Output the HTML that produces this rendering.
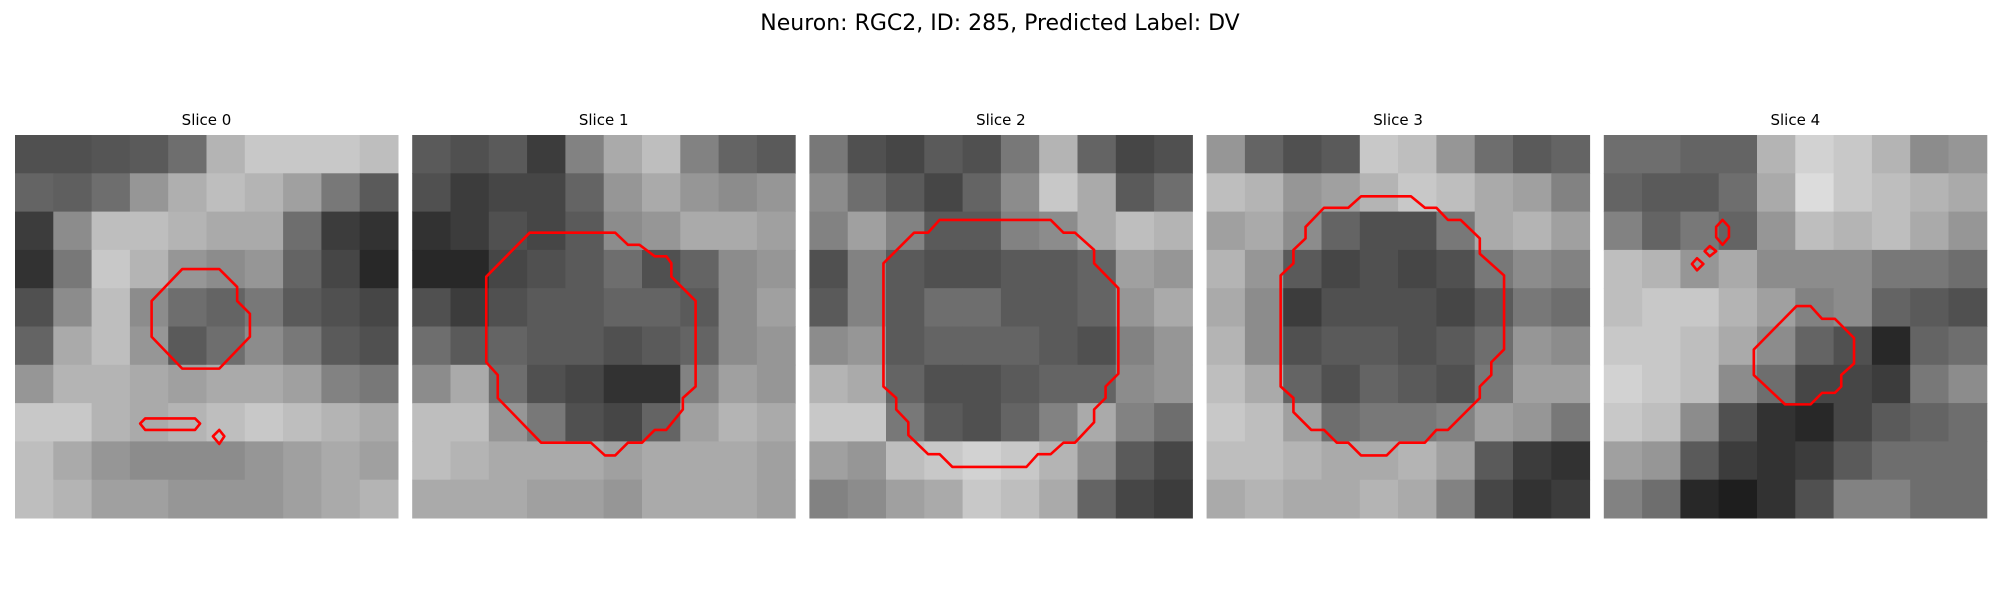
<!DOCTYPE html>
<html><head><meta charset="utf-8"><style>
html,body{margin:0;padding:0;background:#fff;width:2000px;height:600px;overflow:hidden}
svg{display:block}
text{font-family:"DejaVu Sans","Liberation Sans",sans-serif;fill:#000}
</style></head><body>
<svg id="fig" width="2000" height="600" viewBox="0 0 2000 600" xmlns="http://www.w3.org/2000/svg">
<text x="1000" y="30" font-size="22" text-anchor="middle">Neuron: RGC2, ID: 285, Predicted Label: DV</text>
</svg>
<script>
const sliceTitles = ["Slice 0","Slice 1","Slice 2","Slice 3","Slice 4"];
const intensity0 = [
[80,80,85,90,110,180,200,200,200,190],[100,95,110,150,175,190,180,160,120,90],[60,140,190,190,180,170,170,110,60,50],
[50,120,200,180,150,140,150,100,70,40],[80,140,190,140,110,100,120,90,80,70],[100,170,190,150,90,110,140,120,90,80],
[150,180,180,170,160,170,170,160,130,120],[200,200,180,170,180,190,200,190,180,170],[190,170,150,140,140,140,150,160,170,160],
[190,180,160,160,150,150,150,160,170,180]];
const intensity1 = [
[90,80,90,60,130,170,190,130,100,90],[80,60,70,70,100,150,170,150,140,150],[50,60,80,70,90,140,150,170,170,160],
[40,40,70,80,90,110,80,100,140,150],[80,60,80,90,90,100,100,90,140,160],[110,90,100,90,90,80,90,100,140,150],
[140,170,110,80,70,50,50,130,160,150],[190,190,150,120,80,70,100,160,180,170],[190,180,170,170,170,160,170,170,170,160],
[170,170,170,160,160,150,170,170,170,160]];
const intensity2 = [
[120,80,70,90,80,120,180,100,70,80],[140,110,90,70,100,140,200,170,90,110],[130,160,130,90,90,130,140,170,190,180],
[80,130,90,80,80,90,90,100,160,150],[90,130,90,110,110,90,90,100,150,170],[140,150,90,100,100,100,90,80,130,150],
[180,170,100,80,80,90,100,100,140,150],[200,200,120,90,80,100,130,170,130,110],[160,150,190,200,210,200,180,140,90,70],
[130,140,160,170,200,190,170,100,70,60]];
const intensity3 = [
[150,100,80,90,200,190,150,110,90,100],[190,180,150,160,180,200,190,170,160,130],[160,170,140,100,80,80,120,170,180,160],
[180,150,90,70,80,70,80,120,140,130],[170,140,60,80,80,80,70,90,120,110],[180,140,80,90,90,80,90,110,150,140],
[190,170,100,80,100,90,80,120,160,160],[200,190,160,110,120,120,130,160,150,120],[190,190,180,170,170,180,160,90,60,50],
[170,180,170,170,180,170,130,70,50,60]];
const intensity4 = [
[110,110,100,100,180,210,200,180,140,150],[100,90,90,110,170,220,200,190,180,170],[130,100,120,100,150,190,180,190,170,150],
[190,180,150,170,140,140,140,120,120,110],[190,200,200,180,160,130,140,100,90,80],[200,200,190,170,140,100,80,40,100,110],
[210,200,190,140,110,70,70,60,120,140],[200,190,140,80,50,40,70,90,100,110],[160,150,90,60,50,60,90,110,110,110],
[130,110,40,30,50,80,130,130,110,110]];
const contours0 = [
[[13.1,10.5],[16,10.5],[17.4,11.9],[17.4,13],[18.4,14],[18.4,15.8],[16,18.3],[13.1,18.3],[10.7,15.8],[10.7,13]],
[[10.2,22.2],[14.1,22.2],[14.5,22.6],[14.1,23.1],[10.2,23.1],[9.8,22.6]],
[[16,23.1],[16.4,23.6],[16,24.2],[15.5,23.6]]];
const contours1 = [
[[9.2,7.65],[15.9,7.65],[16.9,8.6],[17.8,8.6],[19,9.5],[19.9,9.5],[20.3,10.05],[20.3,11.1],[22.2,13],[22.2,19.7],[21.2,20.6],[21.2,21.5],[19.9,23.1],[19,23.1],[18,24.1],[16.9,24.1],[15.9,25.1],[15.1,25.1],[14,24.1],[10.1,24.1],[6.7,20.6],[6.7,18.8],[5.8,17.8],[5.8,11.1]]];
const contours2 = [
[[10.2,6.65],[18.9,6.65],[19.9,7.65],[20.8,7.65],[22.3,9],[22.3,10.05],[24.2,12],[24.2,18.7],[23.2,19.7],[23.2,20.6],[22.3,21.5],[22.3,22.5],[20.8,24.1],[19.9,24.1],[18.9,25],[17.9,25],[17,26],[11.2,26],[10.2,25],[9.3,25],[7.75,23.5],[7.75,22.5],[6.8,21.5],[6.8,20.6],[5.8,19.7],[5.8,10.05],[8.2,7.65],[9.3,7.65]]];
const contours3 = [
[[12.1,4.8],[16,4.8],[17.1,5.7],[18,5.7],[18.9,6.65],[19.9,6.65],[21.4,8.1],[21.4,9.3],[23.3,11],[23.3,16.8],[22.3,17.8],[22.3,18.8],[21.4,19.7],[21.4,20.6],[18.9,23.1],[18,23.1],[17.1,24.1],[15.1,24.1],[14.1,25.1],[12.1,25.1],[11.1,24.1],[10.2,24.1],[9.2,23.1],[8.2,23.1],[6.8,21.7],[6.8,20.6],[5.8,19.7],[5.8,11],[6.8,10.05],[6.8,9],[7.75,8.1],[7.75,7.2],[9.2,5.7],[11.1,5.7]]];
const contours4 = [
[[15.1,13.4],[16.2,13.4],[17.1,14.4],[18.1,14.4],[19.6,15.9],[19.6,17.9],[18.6,18.8],[18.6,19.7],[18.1,20.2],[17.1,20.2],[16.2,21.1],[14.2,21.1],[11.75,18.8],[11.75,16.8]],
[[9.3,6.65],[9.8,7.2],[9.8,8],[9.3,8.6],[8.8,8],[8.8,7.2]],
[[8.3,8.7],[8.8,9.1],[8.3,9.5],[7.9,9.1]],
[[7.3,9.65],[7.8,10.1],[7.3,10.6],[6.9,10.1]]];

const intensities=[intensity0,intensity1,intensity2,intensity3,intensity4];
const contours=[contours0,contours1,contours2,contours3,contours4];
const NS="http://www.w3.org/2000/svg";
const fig=document.getElementById('fig');
const panelX0=15, panelStep=397.2, panelY0=135, panelSize=383, nCells=30;
function sx(p,v){return panelX0+p*panelStep+v/nCells*panelSize;}
function sy(v){return panelY0+v/nCells*panelSize;}
for(let p=0;p<5;p++){
  const g=document.createElementNS(NS,'g');
  
  
  fig.appendChild(g);
  const t=document.createElementNS(NS,'text');
  
  
  t.setAttribute('x',sx(p,15));t.setAttribute('y',125);
  t.setAttribute('font-size','15');t.setAttribute('text-anchor','middle');
  t.textContent=sliceTitles[p];g.appendChild(t);
  const grid=intensities[p];const n=grid.length;const cs=nCells/n;
  for(let r=0;r<n;r++)for(let c=0;c<grid[r].length;c++){
    const v=grid[r][c];
    const rc=document.createElementNS(NS,'rect');
    
    
    const x1=sx(p,c*cs),x2=sx(p,(c+1)*cs),y1=sy(r*cs),y2=sy((r+1)*cs);
    rc.setAttribute('x',x1);rc.setAttribute('y',y1);
    rc.setAttribute('width',x2-x1+0.5);rc.setAttribute('height',y2-y1+0.5);
    rc.setAttribute('fill','rgb('+v+','+v+','+v+')');
    g.appendChild(rc);
  }
  contours[p].forEach((poly,i)=>{
    const pl=document.createElementNS(NS,'polygon');
    
    
    pl.setAttribute('points',poly.map(q=>sx(p,q[0])+','+sy(q[1])).join(' '));
    pl.setAttribute('fill','none');pl.setAttribute('stroke','#ff0000');pl.setAttribute('stroke-width','2.6');
    pl.setAttribute('stroke-linejoin','round');
    g.appendChild(pl);
  });
}
</script>
</body></html>
